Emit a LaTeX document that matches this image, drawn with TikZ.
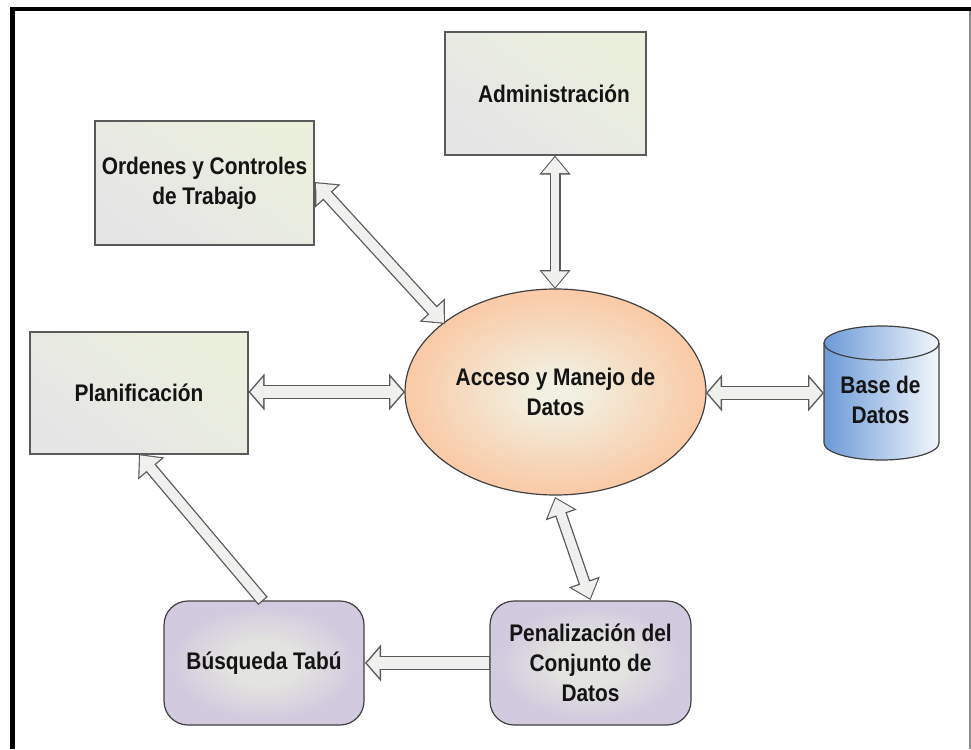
\documentclass[tikz,border=0pt]{standalone}
\usepackage{fontspec}
\setmainfont[FakeStretch=0.87]{Liberation Sans}
\usetikzlibrary{arrows.meta,shapes.geometric,calc}
\definecolor{grayend}{HTML}{E5E5E6}
\definecolor{greenend}{HTML}{EBF0DC}
\definecolor{ovalout}{HTML}{F9CBA8}
\definecolor{ovalin}{HTML}{F1F1E2}
\definecolor{purpout}{HTML}{D2CADF}
\definecolor{purpin}{HTML}{E3E3DF}
\definecolor{cylleft}{HTML}{6C9AD8}
\definecolor{cylright}{HTML}{F3F7FC}
\definecolor{fatfill}{HTML}{F0F1EE}
\definecolor{edgegray}{HTML}{5A5A5A}
\pgfdeclareradialshading{purprad}{\pgfpoint{0bp}{0bp}}{color(0bp)=(purpin);color(9bp)=(purpin);color(23bp)=(purpout);color(50bp)=(purpout)}
\pgfdeclareradialshading{ovalrad}{\pgfpoint{0bp}{0bp}}{color(0bp)=(ovalin);color(3bp)=(ovalin);color(24bp)=(ovalout);color(50bp)=(ovalout)}
\tikzset{
  lbl/.style={font=\bfseries\fontsize{24}{29.8}\selectfont,text=black!92,align=center},
  greenbox/.style={draw=edgegray,line width=1.5pt,inner sep=0,left color=greenend,right color=grayend,shading angle=-35},
  purplebox/.style={draw=black!75,line width=1.2pt,inner sep=0,rounded corners=24pt,shading=purprad},
  fatout/.style={draw=edgegray,line width=#1pt},
  fatin/.style={draw=fatfill,line width=#1pt},
}
% #1 start, #2 end, #3 head width, #4 shaft width, #5 head length
\newcommand{\fatcalc}[3]{%
  \pgfmathsetmacro{\shaftin}{#2-2.6}%
  \pgfmathsetmacro{\tipback}{1.3*sqrt(1+(#1/(2*#3))^2)}%
  \pgfmathsetmacro{\lenin}{#3-1.3-\tipback}%
  \pgfmathsetmacro{\widin}{#1*\lenin/#3}}
\newcommand{\bothlink}[5]{%
  \fatcalc{#3}{#4}{#5}%
  \draw[fatout=#4,{Triangle[width=#3pt,length=#5pt]}-{Triangle[width=#3pt,length=#5pt]}] (#1)--(#2);
  \draw[fatin=\shaftin,shorten <=\tipback pt,shorten >=\tipback pt,{Triangle[width=\widin pt,length=\lenin pt]}-{Triangle[width=\widin pt,length=\lenin pt]}] (#1)--(#2);}
\newcommand{\onelink}[5]{%
  \fatcalc{#3}{#4}{#5}%
  \draw[fatout=#4,-{Triangle[width=#3pt,length=#5pt]}] (#1)--(#2);
  \draw[fatin=\shaftin,shorten <=1.3pt,shorten >=\tipback pt,-{Triangle[width=\widin pt,length=\lenin pt]}] (#1)--(#2);}
\begin{document}
\begin{tikzpicture}[x=1pt,y=-1pt]
\useasboundingbox (0,0) rectangle (971,749);
\fill[white] (0,0) rectangle (971,749);
\draw[black!45,line width=1.5pt] (970,8)--(970,749);
\fill[black] (10,7) rectangle (971,11.5);
\fill[black] (10,7) rectangle (15,749);
\node[greenbox,minimum width=201pt,minimum height=123pt,lbl] (adm) at (545.5,93.5) {\hspace*{17pt}Administración};
\node[greenbox,minimum width=219pt,minimum height=124pt,lbl] (ord) at (204.5,183) {Ordenes y Controles\\de Trabajo};
\node[greenbox,minimum width=218pt,minimum height=122pt,lbl] (pla) at (139,393) {Planificación};
\node[ellipse,draw=black!75,line width=1.2pt,minimum width=301pt,minimum height=206pt,inner sep=0,shading=ovalrad,lbl] (acc) at (555.5,392) {Acceso y Manejo de\\Datos};
\node[purplebox,minimum width=200pt,minimum height=124pt,lbl] (bus) at (264,663) {Búsqueda Tabú};
\node[purplebox,minimum width=201pt,minimum height=124pt,lbl] (pen) at (590.5,663) {Penalización del\\Conjunto de\\Datos};
% cylinder
\path[left color=cylleft,right color=cylright,draw=black!75,line width=1.2pt]
  (824,343) arc[x radius=57.5,y radius=17,start angle=180,end angle=360] -- (939,443) arc[x radius=57.5,y radius=17,start angle=0,end angle=180] -- cycle;
\draw[black!75,line width=1.2pt] (824,343) arc[x radius=57.5,y radius=17,start angle=180,end angle=0];
\node[lbl,inner sep=0] (bd) at (880.5,400) {Base de\\Datos};
\coordinate (a1) at (555,155.5); \coordinate (a2) at (555,289);
\coordinate (b1) at (315,182); \coordinate (b2) at (445,324);
\coordinate (c1) at (248.5,392); \coordinate (c2) at (405,392);
\coordinate (d1) at (706,393); \coordinate (d2) at (824,393);
\coordinate (e1) at (555,497); \coordinate (e2) at (590.5,600);
\coordinate (f1) at (490,663); \coordinate (f2) at (365,663);
\coordinate (g1) at (263,601); \coordinate (g2) at (139,454);
\bothlink{a1}{a2}{30}{11}{19}
\bothlink{b1}{b2}{33}{12.5}{19}
\bothlink{c1}{c2}{36}{14.5}{16}
\bothlink{d1}{d2}{36}{14.5}{16}
\bothlink{e1}{e2}{31.5}{12}{19}
\onelink{f1}{f2}{36}{14}{16}
\onelink{g1}{g2}{33}{12.5}{19}
\end{tikzpicture}
\end{document}
